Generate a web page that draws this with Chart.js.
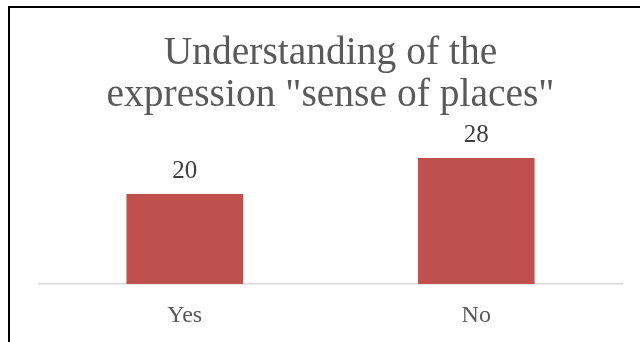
<!DOCTYPE html>
<html>
<head>
<meta charset="utf-8">
<script src="https://cdn.jsdelivr.net/npm/chart.js@4"></script>
<style>
  html, body { margin: 0; padding: 0; background: #fff; }
  #wrap { position: relative; width: 640px; height: 342px; overflow: hidden; }
  #frame { position: absolute; left: 8px; top: 6px; width: 700px; height: 400px;
           border-left: 2px solid #000; border-top: 2px solid #000; }
  #c { position: absolute; left: 0; top: 0; }
</style>
</head>
<body>
<div id="wrap">
  <div id="frame"></div>
  <canvas id="c" width="640" height="342"></canvas>
</div>
<script>
const categories = ["Yes", "No"];
const values = [20, 28];
const titleLines = ["Understanding of the", "expression \"sense of places\""];
const FONT = "'Liberation Serif', 'Times New Roman', serif";

const valueLabels = {
  id: 'valueLabels',
  afterDatasetsDraw(chart) {
    const ctx = chart.ctx;
    const meta = chart.getDatasetMeta(0);
    ctx.save();
    ctx.font = "25px " + FONT;
    ctx.fillStyle = "#404040";
    ctx.textAlign = "center";
    ctx.textBaseline = "alphabetic";
    meta.data.forEach((bar, i) => {
      ctx.fillText(String(chart.data.datasets[0].data[i]), bar.x, bar.y - 16);
    });
    ctx.restore();
  }
};

new Chart(document.getElementById('c'), {
  type: 'bar',
  data: {
    labels: categories,
    datasets: [{
      data: values,
      backgroundColor: '#C0504D',
      borderWidth: 0,
      barPercentage: 0.4,
      categoryPercentage: 1.0
    }]
  },
  options: {
    responsive: false,
    devicePixelRatio: 1,
    animation: false,
    layout: { padding: { left: 39, right: 18, top: 0, bottom: 0 } },
    plugins: {
      legend: { display: false },
      tooltip: { enabled: false },
      title: {
        display: true,
        text: titleLines,
        color: '#595959',
        font: { family: FONT, size: 39.5, weight: 'normal', lineHeight: 42/39.5 },
        padding: { top: 33, bottom: 32 }
      }
    },
    scales: {
      x: {
        grid: { display: false, drawTicks: false },
        border: { display: true, color: '#D9D9D9', width: 1.5 },
        ticks: { color: '#595959', font: { family: FONT, size: 24 }, padding: 17 },
        afterFit(scale) { scale.height = 58; }
      },
      y: {
        display: false,
        min: 0,
        max: 30
      }
    }
  },
  plugins: [valueLabels]
});
</script>
</body>
</html>
